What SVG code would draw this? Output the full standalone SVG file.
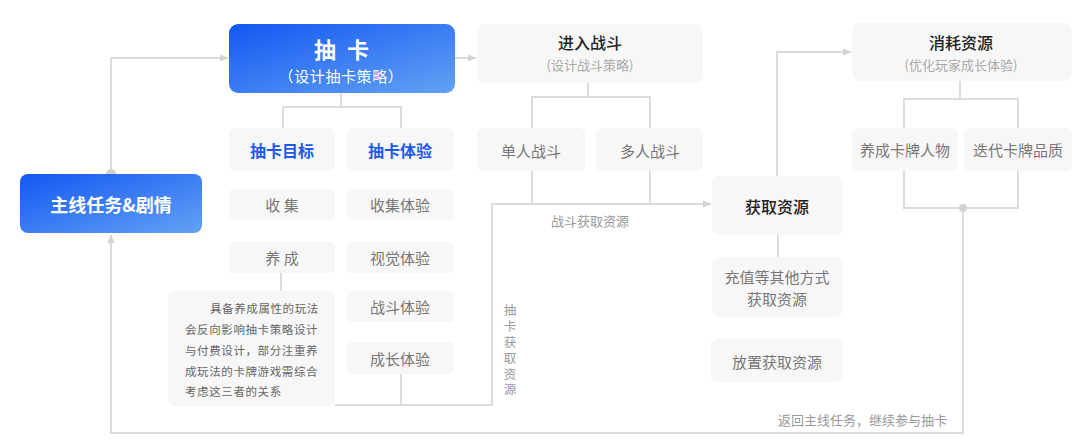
<svg xmlns="http://www.w3.org/2000/svg" width="1080" height="445" viewBox="0 0 1080 445">
<defs>
<linearGradient id="blue" x1="0" y1="0" x2="1" y2="1">
<stop offset="0" stop-color="#1457f2"/>
<stop offset="1" stop-color="#62a2f5"/>
</linearGradient>
<marker id="arr" markerWidth="9" markerHeight="8" refX="8" refY="4" orient="auto" markerUnits="userSpaceOnUse">
<path d="M0,0.5 L8.5,4 L0,7.5 z" fill="#d2d2d2"/>
</marker>
<style>
text{font-family:"Noto Sans CJK SC","Noto Sans",sans-serif;}
.blue{fill:url(#blue);}
.gray{fill:#f7f7f7;}
.ln{fill:none;stroke:#dcdcdc;stroke-width:2;}
.wt{fill:#fff;font-weight:700;text-anchor:middle;dominant-baseline:central;}
.ws{fill:#fff;font-weight:400;font-size:15px;letter-spacing:0.6px;text-anchor:middle;dominant-baseline:central;}
.bt{fill:#1d5aeb;font-weight:700;font-size:16px;text-anchor:middle;dominant-baseline:central;}
.gt{fill:#777;font-size:15px;text-anchor:middle;dominant-baseline:central;}
.dk{fill:#222;font-weight:500;font-size:16px;text-anchor:middle;dominant-baseline:central;}
.sub{fill:#aaa;font-size:13px;font-weight:400;text-anchor:middle;dominant-baseline:central;}
.lbl{fill:#999;font-size:13px;text-anchor:middle;dominant-baseline:central;}
.vl{fill:#999;font-size:12.5px;writing-mode:vertical-rl;letter-spacing:3.4px;}
.note{fill:#666;font-size:11.5px;letter-spacing:0.6px;dominant-baseline:central;}
</style>
</defs>
<rect width="1080" height="445" fill="#fff"/>

<g id="connectors">
<polyline class="ln" points="111,174 111,58 228,58" marker-end="url(#arr)"/>
<polyline class="ln" points="455,58 476,58" marker-end="url(#arr)"/>
<polyline class="ln" points="341,93 341,107"/>
<polyline class="ln" points="283,128 283,107 401,107 401,128"/>
<polyline class="ln" points="281,273 281,291"/>
<polyline class="ln" points="401,374 401,405"/>
<polyline class="ln" points="335,405 492,405 492,204 711,204" marker-end="url(#arr)"/>
<polyline class="ln" points="588,83 588,97"/>
<polyline class="ln" points="532,128 532,97 650,97 650,128"/>
<polyline class="ln" points="532,171 532,204"/>
<polyline class="ln" points="650,171 650,204"/>
<polyline class="ln" points="777,176 777,52 851,52" marker-end="url(#arr)"/>
<polyline class="ln" points="778,235 778,257"/>
<polyline class="ln" points="960,81 960,99"/>
<polyline class="ln" points="904,128 904,99 1018,99 1018,128"/>
<polyline class="ln" points="904,171 904,208 1018,208 1018,171"/>
<polyline class="ln" points="963,208 963,433 111,433 111,235" marker-end="url(#arr)"/>
<circle cx="111" cy="174" r="5" fill="#d2d2d2"/>
<circle cx="963" cy="208" r="4" fill="#d2d2d2"/>
<text class="lbl" x="590" y="220">战斗获取资源</text>
<text class="vl" x="510" y="304">抽卡获取资源</text>
<text class="lbl" x="947" y="419" style="text-anchor:end">返回主线任务，继续参与抽卡</text>
</g>

<g id="node-main">
<rect class="blue" x="20" y="174" width="182" height="59" rx="8"/>
<text class="wt" x="111" y="204" font-size="18">主线任务&amp;剧情</text>
</g>

<g id="node-chouka">
<rect class="blue" x="229" y="24" width="226" height="69" rx="9"/>
<text class="wt" x="343" y="47.5" font-size="22" letter-spacing="3">抽 卡</text>
<text class="ws" x="341" y="75">（设计抽卡策略）</text>
</g>

<g id="node-goal">
<rect class="gray" x="229" y="128" width="106" height="43" rx="6"/>
<text class="bt" x="282" y="150">抽卡目标</text>
</g>
<g id="node-exp">
<rect class="gray" x="347" y="128" width="107" height="43" rx="6"/>
<text class="bt" x="400" y="150">抽卡体验</text>
</g>
<g id="node-collect">
<rect class="gray" x="229" y="189" width="106" height="31" rx="5"/>
<text class="gt" x="282" y="204">收 集</text>
</g>
<g id="node-collect-exp">
<rect class="gray" x="347" y="189" width="107" height="31" rx="5"/>
<text class="gt" x="400" y="204">收集体验</text>
</g>
<g id="node-grow">
<rect class="gray" x="229" y="242" width="106" height="31" rx="5"/>
<text class="gt" x="282" y="257">养 成</text>
</g>
<g id="node-visual">
<rect class="gray" x="347" y="242" width="107" height="31" rx="5"/>
<text class="gt" x="400" y="257">视觉体验</text>
</g>
<g id="node-note">
<rect class="gray" x="168" y="291" width="167" height="115" rx="6"/>
<text class="note" x="210" y="308">具备养成属性的玩法</text>
<text class="note" x="185" y="329">会反向影响抽卡策略设计</text>
<text class="note" x="185" y="350">与付费设计，部分注重养</text>
<text class="note" x="185" y="371">成玩法的卡牌游戏需综合</text>
<text class="note" x="185" y="391">考虑这三者的关系</text>
</g>
<g id="node-battle-exp">
<rect class="gray" x="347" y="291" width="107" height="31" rx="5"/>
<text class="gt" x="400" y="306">战斗体验</text>
</g>
<g id="node-growth-exp">
<rect class="gray" x="347" y="342" width="107" height="32" rx="5"/>
<text class="gt" x="400" y="358">成长体验</text>
</g>

<g id="node-battle">
<rect class="gray" x="477" y="24" width="226" height="59" rx="8"/>
<text class="dk" x="590" y="42">进入战斗</text>
<text class="sub" x="590" y="64">(设计战斗策略)</text>
</g>
<g id="node-single">
<rect class="gray" x="477" y="128" width="108" height="43" rx="6"/>
<text class="gt" x="531" y="150" font-size="16">单人战斗</text>
</g>
<g id="node-multi">
<rect class="gray" x="596" y="128" width="107" height="43" rx="6"/>
<text class="gt" x="650" y="150" font-size="16">多人战斗</text>
</g>

<g id="node-obtain">
<rect class="gray" x="712" y="176" width="131" height="59" rx="8"/>
<text class="dk" x="777" y="206">获取资源</text>
</g>
<g id="node-recharge">
<rect class="gray" x="712" y="257" width="131" height="60" rx="8"/>
<text class="gt" x="777" y="276">充值等其他方式</text>
<text class="gt" x="777" y="298">获取资源</text>
</g>
<g id="node-idle">
<rect class="gray" x="711" y="339" width="132" height="43" rx="7"/>
<text class="gt" x="777" y="361">放置获取资源</text>
</g>

<g id="node-consume">
<rect class="gray" x="852" y="23" width="220" height="58" rx="8"/>
<text class="dk" x="961" y="42">消耗资源</text>
<text class="sub" x="961" y="64">(优化玩家成长体验)</text>
</g>
<g id="node-char">
<rect class="gray" x="852" y="128" width="106" height="43" rx="6"/>
<text class="gt" x="905" y="149">养成卡牌人物</text>
</g>
<g id="node-quality">
<rect class="gray" x="964" y="128" width="108" height="43" rx="6"/>
<text class="gt" x="1018" y="149">迭代卡牌品质</text>
</g>
</svg>
